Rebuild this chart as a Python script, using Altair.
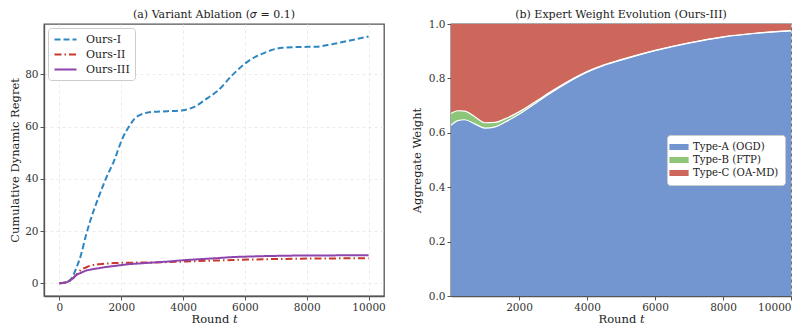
import altair as alt
import pandas as pd

# ---- panel (a) data ----
t_a = [0, 200, 400, 530, 700, 850, 1000, 1300, 1500, 1770, 2040, 2250, 2500, 3000,
       3500, 4000, 4400, 4800, 5100, 5600, 6100, 6700, 7200, 7800, 8300, 8800, 9400, 10000]
ours_1 = [0, 0.3, 2, 5.4, 11, 18, 24, 34, 40, 47, 55.5, 60, 63.8, 65.6,
          65.9, 66.3, 67.8, 71, 73.5, 79.8, 85, 88.6, 90.2, 90.5, 90.6, 91.5, 93, 94.5]
ours_2 = [0, 0.3, 1.5, 3, 5.2, 6.0, 6.7, 7.3, 7.5, 7.7, 7.8, 7.85, 7.9, 7.95,
          8.1, 8.3, 8.45, 8.6, 8.7, 8.9, 9.05, 9.2, 9.3, 9.4, 9.45, 9.5, 9.55, 9.6]
ours_3 = [0, 0.3, 1.5, 3.0, 4.0, 4.8, 5.2, 5.8, 6.2, 6.6, 7.0, 7.3, 7.5, 7.9,
          8.3, 8.8, 9.1, 9.4, 9.6, 10.0, 10.2, 10.4, 10.5, 10.6, 10.6, 10.65, 10.7, 10.7]
series_names = ["Ours-I", "Ours-II", "Ours-III"]
series_colors = ["#2E86C1", "#C9392B", "#8E44AD"]

# ---- panel (b) data ----
t_b = [0, 200, 400, 700, 1000, 1300, 1600, 2000, 2500, 3000, 3500, 4000, 4500,
       5000, 6000, 7000, 8000, 9000, 10000]
w_a = [0.628, 0.645, 0.648, 0.633, 0.617, 0.622, 0.64, 0.668, 0.71, 0.752, 0.79,
       0.823, 0.848, 0.867, 0.902, 0.93, 0.952, 0.966, 0.975]
w_b = [0.043, 0.036, 0.032, 0.026, 0.02, 0.016, 0.012, 0.009, 0.006, 0.004, 0.003,
       0.002, 0.002, 0.002, 0.001, 0.001, 0.001, 0.001, 0.001]
type_names = ["Type-A (OGD)", "Type-B (FTP)", "Type-C (OA-MD)"]
type_colors = ["#7396D1", "#8DC679", "#CD675C"]

titles = ["(a) Variant Ablation (𝜎 = 0.1)", "(b) Expert Weight Evolution (Ours-III)"]

FONT = "DejaVu Serif"

rows = []
for name, vals in zip(series_names, [ours_1, ours_2, ours_3]):
    for t, v in zip(t_a, vals):
        rows.append({"t": t, "v": v, "series": name})
df_a = pd.DataFrame(rows)

rows = []
lines = []
for t, a, b in zip(t_b, w_a, w_b):
    rows.append({"t": t, "type": type_names[0], "lo": 0.0, "hi": a})
    rows.append({"t": t, "type": type_names[1], "lo": a, "hi": a + b})
    rows.append({"t": t, "type": type_names[2], "lo": a + b, "hi": 1.0})
    lines.append({"t": t, "b": "ab", "y": a})
    lines.append({"t": t, "b": "bc", "y": a + b})
df_b = pd.DataFrame(rows)
df_l = pd.DataFrame(lines)

W, H = 340, 272


def title_mark(text):
    return alt.Chart(pd.DataFrame({"label": [text]})).mark_text(
        font=FONT, fontSize=11, color="#222222", align="center", baseline="middle"
    ).encode(x=alt.value(W / 2), y=alt.value(-9), text="label:N")


left_legend = alt.Legend(title=None, orient="top-left", fillColor="white",
                         strokeColor="#cccccc", cornerRadius=3, padding=5,
                         symbolType="M-2,0H2", symbolSize=121,
                         symbolStrokeWidth=2, labelFontSize=11, offset=4,
                         rowPadding=3, labelOffset=14, symbolOffset=6)

left_lines = alt.Chart(df_a).mark_line(strokeWidth=2, interpolate="monotone").encode(
    x=alt.X("t:Q", title="Round 𝑡",
            scale=alt.Scale(domain=[-500, 10500], nice=False, zero=False),
            axis=alt.Axis(values=[0, 2000, 4000, 6000, 8000, 10000], format="d")),
    y=alt.Y("v:Q", title="Cumulative Dynamic Regret",
            scale=alt.Scale(domain=[-4.9, 99.3], nice=False),
            axis=alt.Axis(values=[0, 20, 40, 60, 80], titlePadding=4)),
    color=alt.Color("series:N", scale=alt.Scale(domain=series_names, range=series_colors),
                    legend=left_legend),
    strokeDash=alt.StrokeDash("series:N",
                              scale=alt.Scale(domain=series_names,
                                              range=[[6, 3], [7, 3, 1.5, 3], [1, 0]]),
                              legend=left_legend),
)
left = alt.layer(left_lines, title_mark(titles[0])).properties(width=W, height=H)

areas = alt.Chart(df_b).mark_area(interpolate="monotone", opacity=1).encode(
    x=alt.X("t:Q", title="Round 𝑡", scale=alt.Scale(domain=[0, 10000], nice=False),
            axis=alt.Axis(values=[2000, 4000, 6000, 8000, 10000], format="d")),
    y=alt.Y("lo:Q", title="Aggregate Weight", scale=alt.Scale(domain=[0, 1], nice=False),
            axis=alt.Axis(values=[0, 0.2, 0.4, 0.6, 0.8, 1.0], format=".1f", titlePadding=6)),
    y2="hi:Q",
    color=alt.Color("type:N", scale=alt.Scale(domain=type_names, range=type_colors),
                    legend=alt.Legend(title=None, orient="none", legendX=216, legendY=111,
                                      fillColor="white", strokeColor="#cccccc",
                                      cornerRadius=3, padding=6,
                                      symbolType="M-1.6,-0.5H1.6V0.5H-1.6Z", symbolSize=144,
                                      symbolStrokeWidth=0, labelFontSize=10.2, rowPadding=1,
                                      labelOffset=8)),
    order=alt.Order("type:N"),
)
edges = alt.Chart(df_l).mark_line(interpolate="monotone", color="white", strokeWidth=1.2).encode(
    x="t:Q", y="y:Q", detail="b:N")

right = alt.layer(areas, edges, title_mark(titles[1])).properties(width=W, height=H)

chart = alt.hconcat(left, right, spacing=24).resolve_scale(
    color="independent", strokeDash="independent", x="independent", y="independent"
).resolve_legend(
    color="independent", strokeDash="independent"
).configure(
    padding=0, font=FONT
).configure_view(
    stroke="#555555", strokeWidth=1.3
).configure_axis(
    labelFont=FONT, titleFont=FONT, labelFontSize=10.5, titleFontSize=11.5,
    labelColor="#333333", titleColor="#222222", titleFontWeight="normal",
    domainColor="#555555", domainWidth=1.3, tickColor="#555555", tickSize=4,
    gridColor="#e6e6e6", gridDash=[3, 3], gridWidth=0.8, labelPadding=2,
    titlePadding=1,
).configure_legend(
    labelFont=FONT, labelColor="#222222"
)

chart.save("out.html", embed_options={"renderer": "svg", "actions": False})
